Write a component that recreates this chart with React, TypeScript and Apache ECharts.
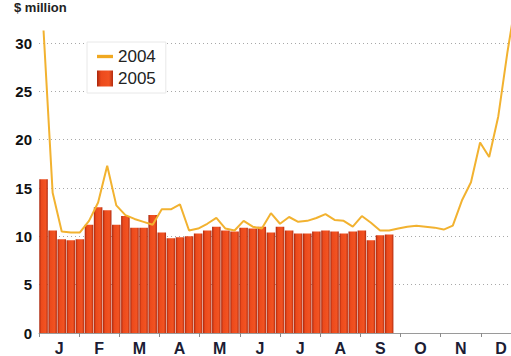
import React, { useEffect, useRef } from 'react';
import * as echarts from 'echarts';

const weeks: string[] = Array.from({ length: 53 }, (_, i) => `W${i + 1}`);
const months = ['J', 'F', 'M', 'A', 'M', 'J', 'J', 'A', 'S', 'O', 'N', 'D'];
const yTicks = [0, 5, 10, 15, 20, 25, 30];

const values2004 = [
  31.3, 14.5, 10.5, 10.4, 10.4, 11.6, 13.5, 17.3, 13.2, 12.2,
  11.8, 11.5, 11.2, 12.8, 12.8, 13.3, 10.6, 10.8, 11.3, 11.9,
  10.8, 10.6, 11.6, 11.0, 10.8, 12.4, 11.3, 12.0, 11.5, 11.6,
  11.9, 12.3, 11.7, 11.6, 11.0, 12.1, 11.4, 10.6, 10.6, 10.8,
  11.0, 11.1, 11.0, 10.9, 10.7, 11.1, 13.7, 15.6, 19.7, 18.2,
  22.4, 29.0, 34.8,
];

const values2005 = [
  15.9, 10.6, 9.7, 9.6, 9.7, 11.2, 13.0, 12.7, 11.2, 12.1,
  10.9, 10.9, 12.2, 10.4, 9.8, 9.9, 10.0, 10.3, 10.6, 11.0,
  10.6, 10.5, 10.9, 10.8, 11.0, 10.4, 11.0, 10.6, 10.3, 10.3,
  10.5, 10.6, 10.5, 10.3, 10.5, 10.6, 9.6, 10.1, 10.2,
];

export default function App() {
  const ref = useRef<HTMLDivElement>(null);
  useEffect(() => {
    if (!ref.current) return;
    const chart = echarts.init(ref.current, null, { renderer: 'svg' });
    const barGradient = new echarts.graphic.LinearGradient(0, 0, 1, 0, [
      { offset: 0, color: '#a8260c' },
      { offset: 0.25, color: '#ec4a1c' },
      { offset: 0.75, color: '#f25322' },
      { offset: 1, color: '#b32c10' },
    ]);
    chart.setOption({
      animation: false,
      backgroundColor: '#ffffff',
      textStyle: { fontFamily: 'Liberation Sans, Arial, sans-serif' },
      grid: { left: 39, right: 0, top: 43, bottom: 21, containLabel: false },
      legend: {
        orient: 'vertical',
        left: 87,
        top: 42,
        padding: [6, 10, 6, 10],
        backgroundColor: '#ffffff',
        borderColor: '#e8e8e8',
        borderWidth: 1,
        itemWidth: 16,
        itemHeight: 16,
        itemGap: 5,
        textStyle: { fontSize: 17, color: '#222222', fontFamily: 'Liberation Sans, Arial, sans-serif' },
        data: [
          { name: '2004', icon: 'path://M0,0 H12 V2.5 H0 Z' },
          { name: '2005', icon: 'rect' },
        ],
      },
      xAxis: [
        {
          type: 'category',
          data: weeks,
          boundaryGap: true,
          show: false,
        },
        {
          type: 'category',
          data: months,
          boundaryGap: true,
          position: 'bottom',
          min: 0,
          max: 11,
          axisLine: { show: true, lineStyle: { color: '#9a9a9a', width: 1 } },
          axisTick: { show: true, alignWithLabel: false, length: 4, lineStyle: { color: '#8a8a8a' } },
          axisLabel: {
            interval: 0,
            fontSize: 16,
            fontWeight: 'bold',
            color: '#1c1c34',
            margin: 7,
          },
          splitLine: { show: false },
        },
      ],
      yAxis: {
        type: 'value',
        min: yTicks[0],
        max: yTicks[yTicks.length - 1],
        interval: 5,
        axisLine: { show: false },
        axisTick: { show: false },
        axisLabel: { fontSize: 15, fontWeight: 'bold', color: '#111111', margin: 7 },
        splitLine: { show: true, lineStyle: { type: [1, 3], color: '#a8a8a8', width: 1 } },
      },
      graphic: [
        {
          type: 'text',
          left: 14,
          top: 1,
          style: { text: '$ million', fontSize: 13, fontWeight: 'bold', fill: '#222', fontFamily: 'Liberation Sans, Arial, sans-serif' },
        },
      ],
      series: [
        {
          name: '2005',
          type: 'bar',
          xAxisIndex: 0,
          data: values2005,
          barCategoryGap: '6%',
          itemStyle: { color: barGradient },
          z: 2,
        },
        {
          name: '2004',
          type: 'line',
          xAxisIndex: 0,
          data: values2004,
          symbol: 'none',
          clip: false,
          lineStyle: { color: '#f2b230', width: 2 },
          itemStyle: { color: '#f0a820' },
          z: 3,
        },
      ],
    });
    return () => chart.dispose();
  }, []);
  return (
    <div style={{ position: 'fixed', left: 0, top: 0, width: 511, height: 356, overflow: 'hidden' }}>
      <div ref={ref} style={{ width: 521, height: 356 }} />
    </div>
  );
}
